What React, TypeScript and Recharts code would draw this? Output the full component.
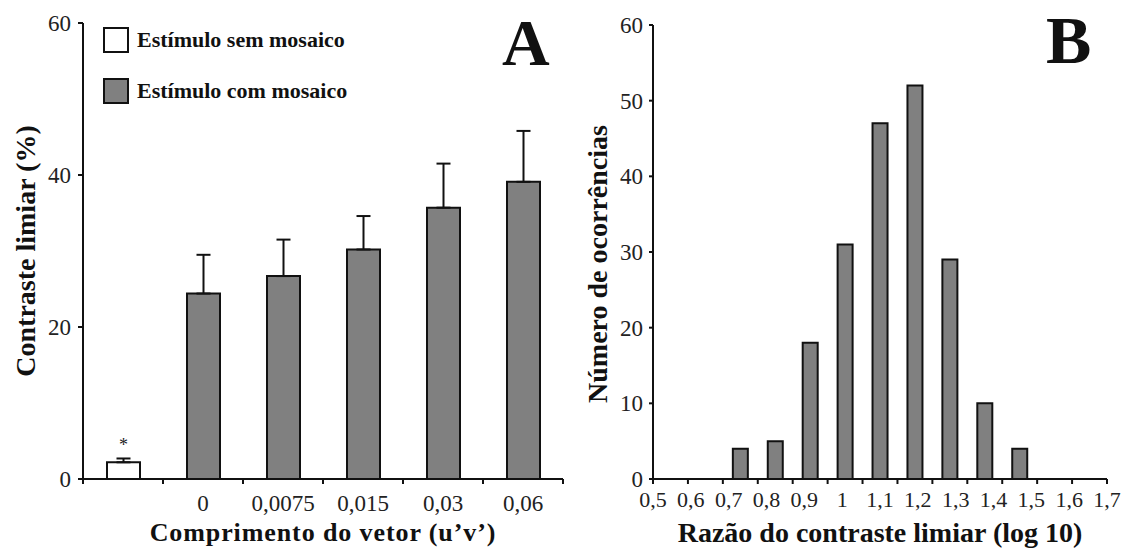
import {
  Bar,
  BarChart,
  Cell,
  ErrorBar,
  LabelList,
  Legend,
  XAxis,
  YAxis,
} from 'recharts';

const SERIF = '"Liberation Serif", "Times New Roman", serif';
const INK = '#111111';
const TEXT = '#222222';
const GRAY = '#808080';

// A: threshold contrast by vector length
const VECTOR_LENGTHS = ['', '0', '0,0075', '0,015', '0,03', '0,06'];
const STIMULUS = ['sem', 'com', 'com', 'com', 'com', 'com'];
const THRESHOLD = [2.2, 24.4, 26.7, 30.2, 35.7, 39.1];
const THRESHOLD_ERR = [0.5, 5.1, 4.8, 4.4, 5.8, 6.7];
const MARKS = ['*', '', '', '', '', ''];
const THRESHOLD_TICKS = [0, 20, 40, 60];

// B: histogram of the threshold ratio
const RATIO_LABELS = ['0,5', '0,6', '0,7', '0,8', '0,9', '1', '1,1', '1,2', '1,3', '1,4', '1,5', '1,6', '1,7'];
const OCCURRENCES = [0, 0, 4, 5, 18, 31, 47, 52, 29, 10, 4, 0, 0];
const OCCURRENCE_TICKS = [0, 10, 20, 30, 40, 50, 60];

const LEGEND_ITEMS = [
  { key: 'sem', label: 'Estímulo sem mosaico' },
  { key: 'com', label: 'Estímulo com mosaico' },
];
const FILL: Record<string, string> = { sem: '#ffffff', com: GRAY };

const thresholdRows = VECTOR_LENGTHS.map((label, i) => ({
  label,
  stimulus: STIMULUS[i],
  value: THRESHOLD[i],
  err: [0, THRESHOLD_ERR[i]],
  mark: MARKS[i],
}));

const ratioRows = RATIO_LABELS.map((bin, i) => ({ bin, count: OCCURRENCES[i] }));

const axisStroke = { stroke: INK, strokeWidth: 2 };
const tickText = (size: number) => ({ fontSize: size, fill: TEXT, fontFamily: SERIF });

// Tick marks sit on the category boundaries; labels either centred in the
// band or spread evenly from the first boundary to the last.
function BandTick(props: any) {
  const { x, y, payload, width, count, spread, baseline, fontSize } = props;
  const band = payload.offset ? payload.offset * 2 : width / count;
  const left = x - band / 2;
  const start = left - payload.index * band;
  const lx = spread ? start + (payload.index * band * count) / (count - 1) : x;
  return (
    <g>
      <line x1={left} x2={left} y1={y} y2={y + 5} stroke={INK} strokeWidth={2} />
      {payload.index === count - 1 ? (
        <line x1={left + band} x2={left + band} y1={y} y2={y + 5} stroke={INK} strokeWidth={2} />
      ) : null}
      <text x={lx} y={y + baseline} textAnchor="middle" fontFamily={SERIF} fontSize={fontSize} fill={TEXT}>
        {payload.value}
      </text>
    </g>
  );
}

const verticalTitle = (text: string, cx: number, shift = 0) =>
  function Title(props: any) {
    const { y, height } = props.viewBox;
    const cy = y + height / 2 + shift;
    return (
      <text
        x={cx}
        y={cy}
        transform={`rotate(-90 ${cx} ${cy})`}
        textAnchor="middle"
        dominantBaseline="central"
        fontFamily={SERIF}
        fontWeight="bold"
        fontSize={28}
        fill={INK}
      >
        {text}
      </text>
    );
  };

const bottomTitle = (text: string, baseline: number, size = 28, spacing = 0) =>
  function Title(props: any) {
    const { x, y, width } = props.viewBox;
    return (
      <text
        x={x + width / 2}
        y={y + baseline}
        textAnchor="middle"
        fontFamily={SERIF}
        fontWeight="bold"
        fontSize={size}
        letterSpacing={spacing}
        fill={INK}
      >
        {text}
      </text>
    );
  };

function renderMark(props: any) {
  const { x, y, width, value } = props;
  if (!value) return null;
  return (
    <text x={x + width / 2} y={y - 11} textAnchor="middle" fontFamily={SERIF} fontSize={18} fill={TEXT}>
      {value}
    </text>
  );
}

function StimulusLegend() {
  return (
    <div style={{ fontFamily: SERIF }}>
      {LEGEND_ITEMS.map((item, i) => (
        <div
          key={item.key}
          style={{ display: 'flex', alignItems: 'center', marginTop: i === 0 ? 0 : 25, height: 26 }}
        >
          <span
            style={{
              width: 22,
              height: 22,
              border: `2px solid ${INK}`,
              background: FILL[item.key],
              display: 'inline-block',
            }}
          />
          <span style={{ marginLeft: 8, fontWeight: 'bold', fontSize: 22, color: INK, whiteSpace: 'nowrap' }}>
            {item.label}
          </span>
        </div>
      ))}
    </div>
  );
}

function ThresholdChart() {
  return (
    <BarChart
      width={564}
      height={548}
      data={thresholdRows}
      margin={{ top: 23, right: 1, bottom: 0, left: 33 }}
      barSize={33}
    >
      <XAxis
        dataKey="label"
        height={69}
        interval={0}
        axisLine={axisStroke}
        tickLine={false}
        tickSize={0}
        tickMargin={0}
        tick={(p: any) => (
          <BandTick {...p} count={VECTOR_LENGTHS.length} baseline={32} fontSize={23} />
        )}
        label={bottomTitle('Comprimento do vetor (u’v’)', 62, 26, 0.9)}
      />
      <YAxis
        width={50}
        domain={[0, 60]}
        ticks={THRESHOLD_TICKS}
        interval={0}
        tickSize={5}
        tickMargin={7}
        axisLine={axisStroke}
        tickLine={axisStroke}
        tick={tickText(23)}
        label={verticalTitle('Contraste limiar (%)', 25)}
      />
      <Legend
        layout="vertical"
        align="center"
        verticalAlign="middle"
        wrapperStyle={{ top: 27, left: 103, width: 'auto' }}
        content={() => <StimulusLegend />}
      />
      <Bar dataKey="value" stroke={INK} strokeWidth={2} isAnimationActive={false}>
        {thresholdRows.map((row, i) => (
          <Cell key={i} fill={FILL[row.stimulus]} />
        ))}
        <ErrorBar dataKey="err" width={7} stroke={INK} strokeWidth={2} isAnimationActive={false} />
        <LabelList dataKey="mark" content={renderMark} />
      </Bar>
    </BarChart>
  );
}

function RatioHistogram() {
  return (
    <BarChart
      width={564}
      height={548}
      data={ratioRows}
      margin={{ top: 25, right: 21, bottom: 0, left: 29 }}
      barSize={15}
    >
      <XAxis
        dataKey="bin"
        height={69}
        interval={0}
        axisLine={axisStroke}
        tickLine={false}
        tickSize={0}
        tickMargin={0}
        tick={(p: any) => (
          <BandTick {...p} count={RATIO_LABELS.length} spread baseline={28} fontSize={22} />
        )}
        label={bottomTitle('Razão do contraste limiar (log 10)', 63)}
      />
      <YAxis
        width={60}
        domain={[0, 60]}
        ticks={OCCURRENCE_TICKS}
        interval={0}
        tickSize={4}
        tickMargin={6}
        axisLine={axisStroke}
        tickLine={axisStroke}
        tick={tickText(23)}
        label={verticalTitle('Número de ocorrências', 33, 12)}
      />
      <Bar dataKey="count" fill={GRAY} stroke={INK} strokeWidth={2} isAnimationActive={false} />
    </BarChart>
  );
}

export default function App() {
  return (
    <div
      style={{
        position: 'absolute',
        left: 0,
        top: 0,
        width: 1128,
        height: 548,
        background: '#ffffff',
        fontFamily: SERIF,
      }}
    >
      <div style={{ position: 'absolute', left: 0, top: 0 }}>
        <ThresholdChart />
      </div>
      <div style={{ position: 'absolute', left: 564, top: 0 }}>
        <RatioHistogram />
      </div>
      <svg
        width={1128}
        height={548}
        style={{ position: 'absolute', left: 0, top: 0, pointerEvents: 'none' }}
      >
        <text x={502} y={65} fontFamily={SERIF} fontWeight="bold" fontSize={66} fill={INK}>
          A
        </text>
        <text x={1046} y={63} fontFamily={SERIF} fontWeight="bold" fontSize={68} fill={INK}>
          B
        </text>
      </svg>
    </div>
  );
}
